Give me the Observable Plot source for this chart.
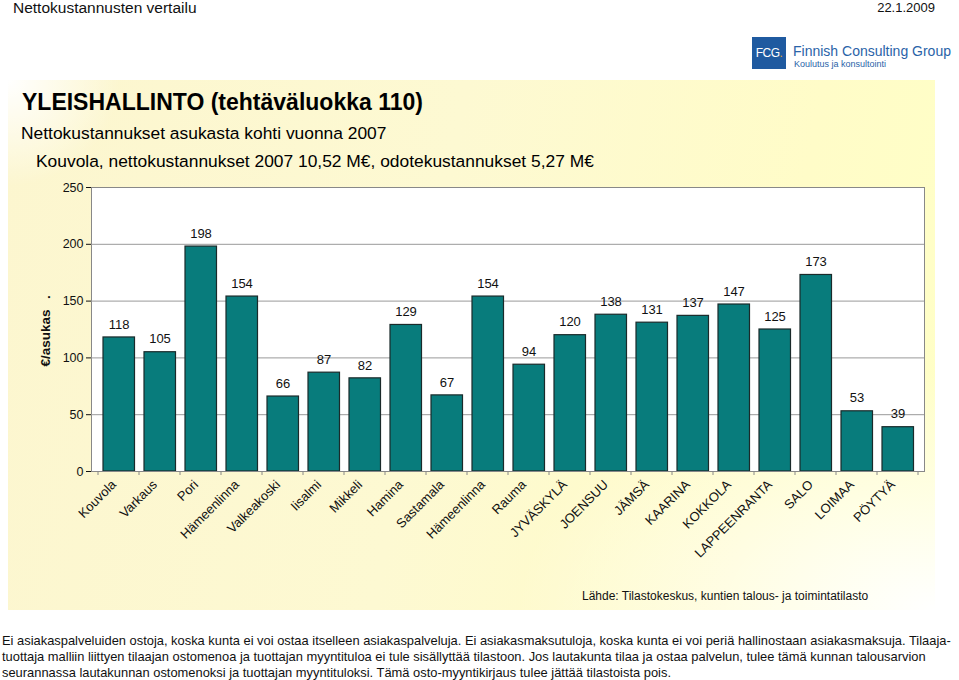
<!DOCTYPE html>
<html><head><meta charset="utf-8">
<script src="https://cdn.jsdelivr.net/npm/d3@7"></script>
<script src="https://cdn.jsdelivr.net/npm/@observablehq/plot@0.6"></script>
<style>
body{margin:0;background:#fff;font-family:"Liberation Sans",Arial,sans-serif;}
#page{position:relative;width:959px;height:680px;overflow:hidden;background:#fff;}
.abs{position:absolute;white-space:nowrap;}
#panel{position:absolute;left:8px;top:80px;width:927px;height:530px;
 background:
  radial-gradient(ellipse 45% 45% at 100% 100%, rgba(255,255,255,1) 0%, rgba(255,255,255,0) 100%),
  radial-gradient(ellipse 12% 20% at 0% 0%, rgba(255,255,255,1) 0%, rgba(255,255,255,0) 100%),
  linear-gradient(100deg,#fcf6cf 0%,#fdf9d2 45%,#fffcc8 80%,#ffffc6 100%);}
#chart{position:absolute;left:0;top:170px;}
</style></head><body>
<div id="page">
<div id="panel"></div>
<div class="abs" style="left:13px;top:-1px;font-size:15.5px;color:#111;">Nettokustannusten vertailu</div>
<div class="abs" style="right:24px;top:0px;font-size:13px;color:#111;">22.1.2009</div>
<div class="abs" style="left:752px;top:37px;width:34px;height:32px;background:#1f5aa0;color:#fff;font-size:12px;line-height:32px;text-align:center;letter-spacing:-0.6px;">FCG<span style="color:#e8a020">.</span></div>
<div class="abs" style="left:793px;top:43px;font-size:14px;color:#2a63a8;">Finnish Consulting Group</div>
<div class="abs" style="left:794px;top:59px;font-size:9px;color:#2a63a8;">Koulutus ja konsultointi</div>
<div class="abs" style="left:22px;top:89px;font-size:23px;font-weight:bold;color:#000;">YLEISHALLINTO (tehtäväluokka 110)</div>
<div class="abs" style="left:21px;top:123px;font-size:17.4px;color:#000;">Nettokustannukset asukasta kohti vuonna 2007</div>
<div class="abs" style="left:36px;top:151px;font-size:17.4px;color:#000;">Kouvola, nettokustannukset 2007 10,52 M€, odotekustannukset 5,27 M€</div>
<div id="chart"></div>
<div class="abs" style="left:582px;top:589px;font-size:12px;color:#111;">Lähde: Tilastokeskus, kuntien talous- ja toimintatilasto</div>
<div class="abs" style="left:2px;top:633px;font-size:12.9px;line-height:16px;color:#111;">Ei asiakaspalveluiden ostoja, koska kunta ei voi ostaa itselleen asiakaspalveluja. Ei asiakasmaksutuloja, koska kunta ei voi periä hallinostaan asiakasmaksuja. Tilaaja-<br>tuottaja malliin liittyen tilaajan ostomenoa ja tuottajan myyntituloa ei tule sisällyttää tilastoon. Jos lautakunta tilaa ja ostaa palvelun, tulee tämä kunnan talousarvion<br>seurannassa lautakunnan ostomenoksi ja tuottajan myyntituloksi. Tämä osto-myyntikirjaus tulee jättää tilastoista pois.</div>
</div>
<script>
const categories = ["Kouvola","Varkaus","Pori","Hämeenlinna","Valkeakoski","Iisalmi","Mikkeli","Hamina","Sastamala","Hämeenlinna","Rauma","JYVÄSKYLÄ","JOENSUU","JÄMSÄ","KAARINA","KOKKOLA","LAPPEENRANTA","SALO","LOIMAA","PÖYTYÄ"];
const values = [118,105,198,154,66,87,82,129,67,154,94,120,138,131,137,147,125,173,53,39];
const yTicks = [0,50,100,150,200,250];

const data = categories.map((c,i)=>({i, name:c, value:values[i]}));

const chart = Plot.plot({
  width: 959,
  height: 420,
  marginLeft: 91,
  marginRight: 35,
  marginTop: 17,
  marginBottom: 119,
  style:{background:"transparent", fontFamily:"Liberation Sans, Arial, sans-serif", fontSize:"12px", color:"#111"},
  x:{domain:d3.range(categories.length), padding:0, label:null},
  y:{domain:[0,250], label:null},
  marks:[
    Plot.frame({fill:"#fff", stroke:"#888"}),
    Plot.gridY(yTicks.filter(t=>t>0 && t<250), {stroke:"#999", strokeOpacity:1}),
    Plot.barY(data, {x:"i", y:"value", insetLeft:5, insetRight:4.5, fill:"#087c7c", stroke:"#1a2a2a", strokeWidth:1.2}),
    Plot.text(data, {x:"i", y:"value", text:d=>String(d.value), dy:-13, fontSize:13, fill:"#111"}),
    Plot.ruleY([0], {stroke:"#888"}),
    Plot.axisY({ticks:yTicks, tickSize:5, tickPadding:3, label:null, fontSize:12.5}),
    Plot.axisX({tickFormat:i=>categories[i], tickRotate:-45, tickSize:0, tickPadding:11, dx:-5, label:null, fontSize:13})
  ]
});
document.getElementById("chart").appendChild(chart);

const svg = d3.select(chart);
// Excel-style category boundary ticks, from Plot's own x scale
const xs = chart.scale("x");
const ys = chart.scale("y");
const y0 = ys.apply(0);
const bounds = categories.map((c,i)=>xs.apply(i)).concat([xs.apply(categories.length-1)+xs.step]);
svg.append("g").selectAll("line").data(bounds).join("line")
  .attr("x1",d=>d).attr("x2",d=>d).attr("y1",y0).attr("y2",y0+4)
  .attr("stroke","#888");

// y label
svg.append("text")
  .attr("transform","translate(50,168) rotate(-90)")
  .attr("text-anchor","middle")
  .attr("font-weight","bold")
  .attr("font-size",13.5)
  .attr("fill","#111")
  .text("€/asukas");
svg.append("text")
  .attr("transform","translate(50,127) rotate(-90)")
  .attr("text-anchor","middle")
  .attr("font-weight","bold")
  .attr("font-size",13.5)
  .attr("fill","#111")
  .text(".");
</script>
</body></html>
